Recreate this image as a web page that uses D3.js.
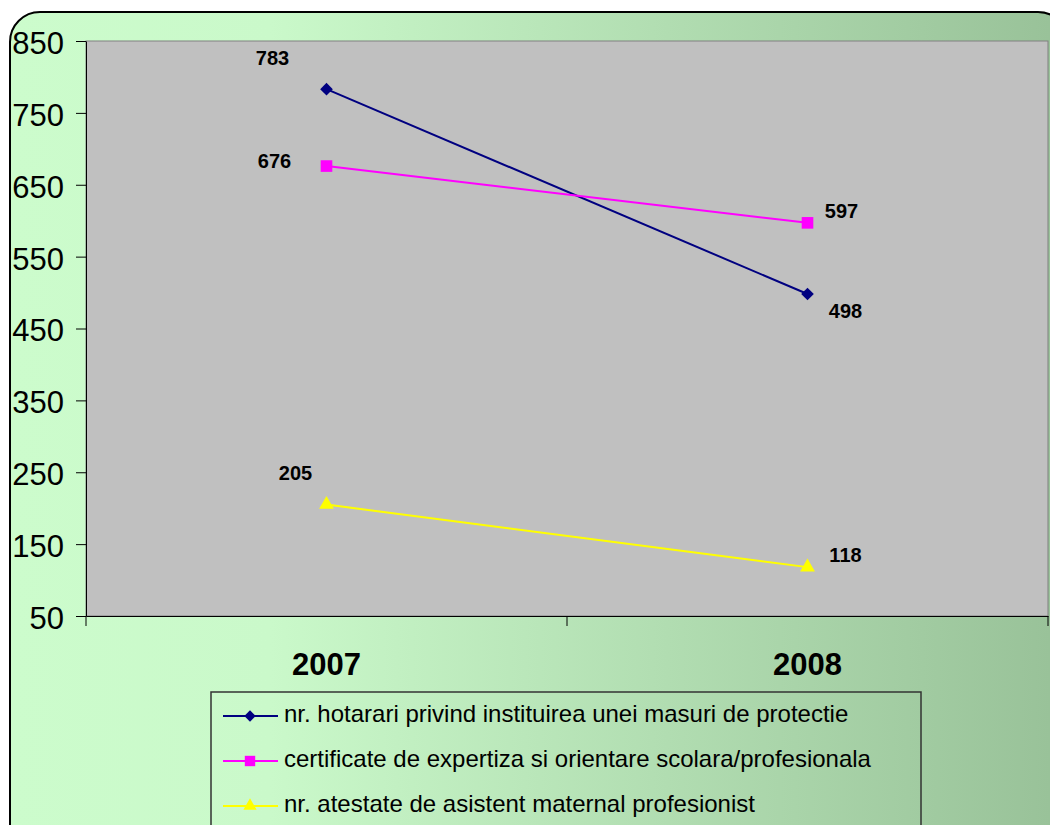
<!DOCTYPE html>
<html lang="ro">
<head>
<meta charset="UTF-8">
<script src="https://d3js.org/d3.v7.min.js"></script>
<style>
  body { margin: 0; background: #fff; }
  svg { display: block; font-family: Arial, 'Liberation Sans', sans-serif; }
</style>
</head>
<body>
<div id="chart"></div>
<script>
// date
const years = ["2007", "2008"];
const seriesNames = [
  "nr. hotarari privind instituirea unei masuri de protectie",
  "certificate de expertiza si orientare scolara/profesionala",
  "nr. atestate de asistent maternal profesionist"
];
const hotarari = [783, 498];
const certificate = [676, 597];
const atestate = [205, 118];
const yTicks = [50, 150, 250, 350, 450, 550, 650, 750, 850];

const colors = ["#000080", "#FF00FF", "#FFFF00"];
const allSeries = [hotarari, certificate, atestate];

// pozitia etichetelor (dx, dy) pentru fiecare punct
const labelOffsets = [
  [[-54, -29], [38, 19]],
  [[-52, -3], [34, -10]],
  [[-31, -30], [38, -10]]
];

const width = 1050, height = 825;
const plot = { left: 86, top: 41, right: 1048, bottom: 616 };

// markere: romb, patrat, triunghi
function marker(s, k) {
  if (s === 0) {
    return { d: d3.symbol().type(d3.symbolSquare).size(80 * k)(), rot: 45 };
  }
  if (s === 1) {
    return { d: d3.symbol().type(d3.symbolSquare).size(135 * k)(), rot: 0 };
  }
  return { d: d3.symbol().type(d3.symbolTriangle).size(95 * k)(), rot: 0 };
}

const svg = d3.select("#chart").append("svg")
  .attr("width", width).attr("height", height);

const defs = svg.append("defs");
const grad = defs.append("linearGradient")
  .attr("id", "bg").attr("gradientUnits", "userSpaceOnUse")
  .attr("x1", 10).attr("x2", 1050).attr("y1", 0).attr("y2", 0);
grad.append("stop").attr("offset", "0%").attr("stop-color", "#CCFCCC");
grad.append("stop").attr("offset", "25%").attr("stop-color", "#CAF9CA");
grad.append("stop").attr("offset", "100%").attr("stop-color", "#99C299");

// fundal
svg.append("rect")
  .attr("x", 10).attr("y", 12)
  .attr("width", 1058).attr("height", 850)
  .attr("rx", 30).attr("ry", 30)
  .attr("fill", "url(#bg)")
  .attr("stroke", "#000").attr("stroke-width", 2);

const x = d3.scaleBand().domain(years)
  .range([plot.left, plot.right]);
const y = d3.scaleLinear().domain([50, 850])
  .range([plot.bottom, plot.top]);

// zona graficului
svg.append("rect")
  .attr("x", plot.left).attr("y", plot.top)
  .attr("width", plot.right - plot.left).attr("height", plot.bottom - plot.top)
  .attr("fill", "#C0C0C0")
  .attr("stroke", "#808080").attr("stroke-width", 1);

// axa Y
const yAxis = svg.append("g")
  .attr("transform", `translate(${plot.left},0)`)
  .call(d3.axisLeft(y).tickValues(yTicks).tickSize(10).tickPadding(12).tickSizeOuter(0));
yAxis.select(".domain").attr("stroke", "#000");
yAxis.selectAll("line").attr("stroke", "#000");
yAxis.selectAll("text")
  .attr("dy", "0.4em")
  .attr("font-size", 31).attr("fill", "#000")
  .attr("font-family", "Arial, 'Liberation Sans', sans-serif");

// axa X
const xAxis = svg.append("g")
  .attr("transform", `translate(0,${plot.bottom})`)
  .call(d3.axisBottom(x).tickSize(0).tickPadding(37).tickSizeOuter(0));
xAxis.select(".domain").attr("stroke", "#000");
xAxis.selectAll("text")
  .attr("font-size", 31).attr("font-weight", "bold").attr("fill", "#000")
  .attr("font-family", "Arial, 'Liberation Sans', sans-serif");
// gradatii intre categorii
const xEdges = [plot.left, x("2008"), plot.right];
xAxis.selectAll(".edge").data(xEdges).join("line")
  .attr("x1", d => d).attr("x2", d => d)
  .attr("y1", 0).attr("y2", 10)
  .attr("stroke", "#000");

const line = d3.line()
  .x((d, i) => x(years[i]) + x.bandwidth() / 2)
  .y(d => y(d));

allSeries.forEach((vals, s) => {
  svg.append("path")
    .datum(vals)
    .attr("d", line)
    .attr("fill", "none")
    .attr("stroke", colors[s])
    .attr("stroke-width", 2);

  const m = marker(s, 1);
  svg.selectAll(".pt" + s).data(vals).join("path")
    .attr("transform", (d, i) => `translate(${x(years[i]) + x.bandwidth() / 2},${y(d)}) rotate(${m.rot})`)
    .attr("d", m.d)
    .attr("fill", colors[s]);

  svg.selectAll(".lbl" + s).data(vals).join("text")
    .attr("x", (d, i) => x(years[i]) + x.bandwidth() / 2 + labelOffsets[s][i][0])
    .attr("y", (d, i) => y(d) + labelOffsets[s][i][1])
    .attr("text-anchor", "middle")
    .attr("dominant-baseline", "middle")
    .attr("font-size", 20).attr("font-weight", "bold")
    .text(d => d);
});

// legenda
const legend = svg.append("g");
legend.append("rect")
  .attr("x", 211).attr("y", 692)
  .attr("width", 710).attr("height", 160)
  .attr("fill", "url(#bg)")
  .attr("stroke", "#333").attr("stroke-width", 1.5);

seriesNames.forEach((name, s) => {
  const ly = 716 + s * 45;
  legend.append("line")
    .attr("x1", 223).attr("x2", 278)
    .attr("y1", ly).attr("y2", ly)
    .attr("stroke", colors[s]).attr("stroke-width", 2);
  const m = marker(s, 0.8);
  legend.append("path")
    .attr("transform", `translate(250,${ly}) rotate(${m.rot})`)
    .attr("d", m.d)
    .attr("fill", colors[s]);
  legend.append("text")
    .attr("x", 284).attr("y", ly)
    .attr("dominant-baseline", "middle")
    .attr("font-size", 24).attr("fill", "#000")
    .text(name);
});
</script>
</body>
</html>
